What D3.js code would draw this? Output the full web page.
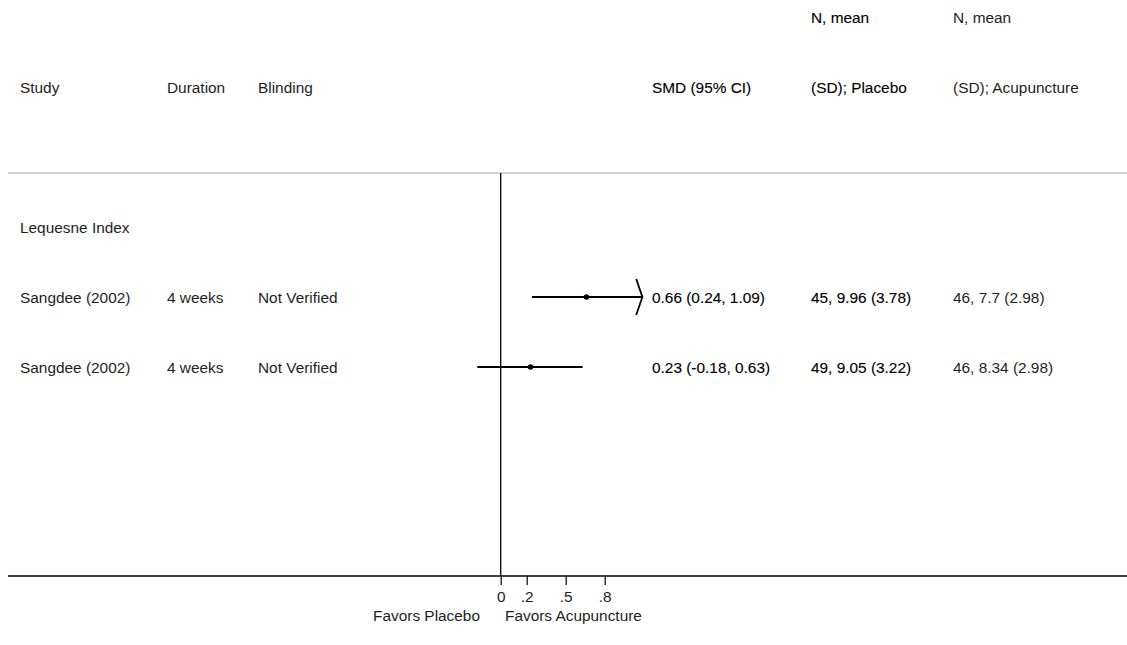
<!DOCTYPE html>
<html><head><meta charset="utf-8">
<script src="https://cdn.jsdelivr.net/npm/d3@7"></script>
<style>body{margin:0;background:#fff}svg{display:block}text{font-family:"Liberation Sans",Arial,sans-serif;font-size:15.4px}</style>
</head><body>
<svg id="c" width="1127" height="645"></svg>
<script>
const studies = ["Sangdee (2002)", "Sangdee (2002)"];
const durations = ["4 weeks", "4 weeks"];
const blinding = ["Not Verified", "Not Verified"];
const smd = [0.66, 0.23];
const ciLow = [0.24, -0.18];
const ciHigh = [1.09, 0.63];
const smdLabels = ["0.66 (0.24, 1.09)", "0.23 (-0.18, 0.63)"];
const placeboLabels = ["45, 9.96 (3.78)", "49, 9.05 (3.22)"];
const acuLabels = ["46, 7.7 (2.98)", "46, 8.34 (2.98)"];
const groupLabel = "Lequesne Index";
const tickValues = [0, 0.2, 0.5, 0.8];
const tickLabels = ["0", ".2", ".5", ".8"];
const plotMax = 1.09;

const svg = d3.select("#c");
const x = d3.scaleLinear().domain([0, 1]).range([500.7, 630.7]);
const rowY = d3.scaleLinear().domain([0, 1]).range([227, 297]); // row index -> y (0 = group label)

const cols = {study:20, dur:167, blind:258, smd:652, pl:811, acu:953};
const dark = "#000", soft = "#1e1e1e";
function txt(xp, yc, s, strong){
  const t = svg.append("text").attr("x", xp).attr("y", yc + 5.5).text(s)
    .attr("fill", strong ? dark : soft);
  if (strong) t.attr("stroke", dark).attr("stroke-width", 0.12);
  return t;
}
// headers
txt(cols.pl, 17, "N, mean", true);
txt(cols.acu, 17, "N, mean", false);
txt(cols.study, 87, "Study");
txt(cols.dur, 87, "Duration");
txt(cols.blind, 87, "Blinding");
txt(cols.smd, 87, "SMD (95% CI)", true);
txt(cols.pl, 87, "(SD); Placebo", true);
txt(cols.acu, 87, "(SD); Acupuncture");

// gray separator
svg.append("line").attr("x1", 8).attr("x2", 1127).attr("y1", 173).attr("y2", 173)
  .attr("stroke", "#c6c6c6").attr("stroke-width", 1.5);

// null line
const axisY = 576;
svg.append("line").attr("x1", x(0)).attr("x2", x(0)).attr("y1", 173).attr("y2", axisY)
  .attr("stroke", "#000").attr("stroke-width", 1.3);

txt(cols.study, rowY(0), groupLabel);

studies.forEach((s, i) => {
  const y = rowY(i + 1);
  txt(cols.study, y, s);
  txt(cols.dur, y, durations[i]);
  txt(cols.blind, y, blinding[i]);
  txt(cols.smd, y, smdLabels[i], true);
  txt(cols.pl, y, placeboLabels[i], true);
  txt(cols.acu, y, acuLabels[i]);
  const hi = Math.min(ciHigh[i], plotMax);
  svg.append("line").attr("x1", x(ciLow[i])).attr("x2", x(hi)).attr("y1", y).attr("y2", y)
    .attr("stroke", "#000").attr("stroke-width", 1.8);
  if (ciHigh[i] >= plotMax) {
    svg.append("path").attr("d", `M${x(hi)-6.2},${y-18}L${x(hi)},${y}L${x(hi)-6.2},${y+18}`)
      .attr("fill", "none").attr("stroke", "#000").attr("stroke-width", 1.8);
  }
  svg.append("circle").attr("cx", x(smd[i])).attr("cy", y).attr("r", 2.8).attr("fill", "#000");
});

// axis
svg.append("line").attr("x1", 8).attr("x2", 1127).attr("y1", axisY).attr("y2", axisY)
  .attr("stroke", "#000").attr("stroke-width", 1.5);
const ax = svg.append("g").attr("transform", `translate(0,${axisY})`)
  .call(d3.axisBottom(x).tickValues(tickValues).tickFormat((d, i) => tickLabels[i]).tickSize(9).tickPadding(6));
ax.select(".domain").remove();
ax.selectAll(".tick line").attr("stroke", "#000").attr("stroke-width", 1.2);
ax.selectAll(".tick text").attr("fill", soft).style("font-size", "15.4px")
  .style("font-family", '"Liberation Sans",Arial,sans-serif');

svg.append("text").attr("x", 480).attr("y", 621).attr("text-anchor", "end").attr("fill", soft).text("Favors Placebo");
svg.append("text").attr("x", 505).attr("y", 621).attr("fill", soft).text("Favors Acupuncture");
</script>
</body></html>
